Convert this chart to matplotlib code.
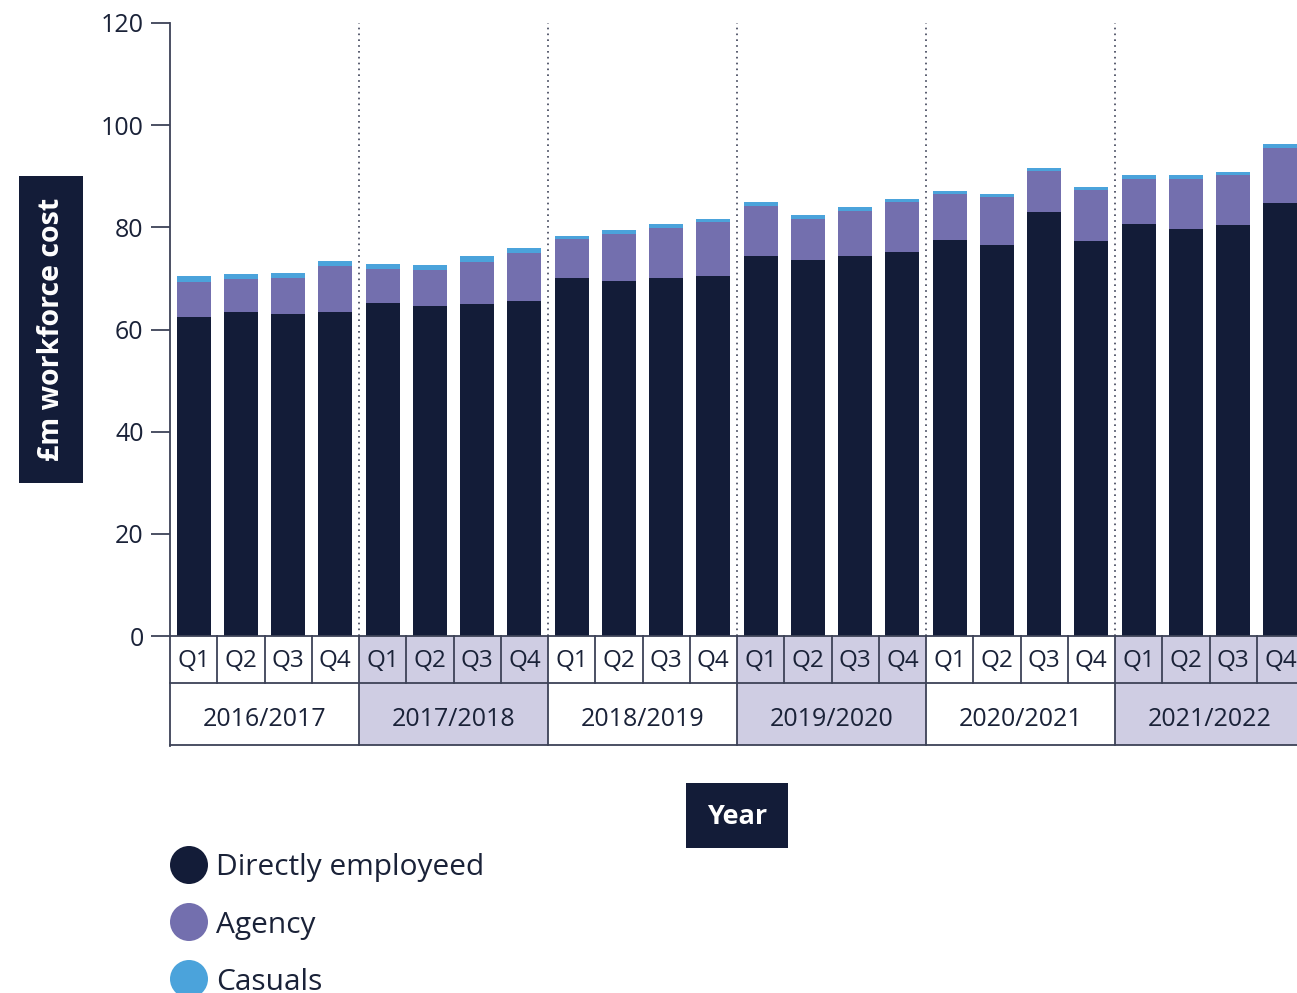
import matplotlib.pyplot as plt
from matplotlib.patches import Rectangle, Circle
from matplotlib.transforms import blended_transform_factory

plt.rcParams['font.family'] = ['Open Sans', 'DejaVu Sans']

# Workforce cost by quarter (£m)
years = ['2016/2017', '2017/2018', '2018/2019', '2019/2020', '2020/2021', '2021/2022']
quarters = ['Q1', 'Q2', 'Q3', 'Q4']
direct = [62.4, 63.4, 63.0, 63.4, 65.2, 64.6, 65.0, 65.6,
          70.1, 69.5, 70.1, 70.5, 74.4, 73.6, 74.4, 75.2,
          77.5, 76.5, 83.0, 77.3, 80.7, 79.7, 80.5, 84.8]
agency = [6.9, 6.5, 7.1, 9.0, 6.6, 7.1, 8.2, 9.4,
          7.6, 9.2, 9.8, 10.5, 9.8, 8.0, 8.8, 9.8,
          9.0, 9.4, 8.0, 10.0, 8.8, 9.8, 9.7, 10.7]
casual = [1.2, 1.0, 1.0, 1.0, 1.0, 0.9, 1.2, 1.0,
          0.6, 0.8, 0.8, 0.6, 0.8, 0.8, 0.8, 0.6,
          0.6, 0.6, 0.6, 0.6, 0.7, 0.7, 0.6, 0.8]
series_names = ['Directly employeed', 'Agency', 'Casuals']

NAVY = '#131c38'
PURPLE = '#736fae'
BLUE = '#4ba3db'
SHADE = '#cfcde3'
TEXT = '#1a2238'
LINE = '#3d4257'

W, H = 1297, 993
fig = plt.figure(figsize=(W / 100, H / 100), dpi=100)
ax = fig.add_axes([170 / W, (H - 636) / H, 1134 / W, 613 / H])

x = list(range(len(direct)))
ax.bar(x, direct, width=0.72, color=NAVY, zorder=2)
ax.bar(x, agency, width=0.72, bottom=direct, color=PURPLE, zorder=2)
tops = [d + a for d, a in zip(direct, agency)]
ax.bar(x, casual, width=0.72, bottom=tops, color=BLUE, zorder=2)

ax.set_xlim(-0.5, len(direct) - 0.5)
ax.set_ylim(0, 120)
ax.set_yticks(range(0, 121, 20))
ax.set_xticks([])
ax.tick_params(axis='y', length=14, width=1.3, color=LINE, pad=5,
               labelsize=18, labelcolor=TEXT)
for s in ['top', 'right', 'bottom']:
    ax.spines[s].set_visible(False)
ax.spines['left'].set_color(LINE)
ax.spines['left'].set_linewidth(1.3)
ax.spines['left'].set_bounds(-21.5, 120)

# dotted separators between financial years
for g in range(1, len(years)):
    ax.axvline(g * 4 - 0.5, ymin=0, ymax=1, color=LINE, linestyle=(0, (1, 2.5)),
               linewidth=1.2, zorder=1)

# two-row category table under the axis
trans = blended_transform_factory(ax.transData, ax.transAxes)
q_top, q_bot, y_bot = 0.0, -47 / 613, -109 / 613
for g, yr in enumerate(years):
    x0 = g * 4 - 0.5
    fc = SHADE if g % 2 == 1 else 'white'
    ax.add_patch(Rectangle((x0, y_bot), 4, q_top - y_bot, transform=trans,
                           facecolor=fc, edgecolor='none', clip_on=False, zorder=0))
    ax.text(x0 + 2, (q_bot + y_bot) / 2 - 0.009, yr, transform=trans, ha='center',
            va='center', fontsize=18, color=TEXT, clip_on=False)
    for qi, q in enumerate(quarters):
        ax.text(x0 + qi + 0.5, (q_top + q_bot) / 2 - 0.003, q, transform=trans,
                ha='center', va='center', fontsize=17.5, color=TEXT, clip_on=False)
for i in range(1, len(direct) + 1):
    lx = i - 0.5
    y_low = y_bot if i % 4 == 0 else q_bot
    ax.plot([lx, lx], [q_top, y_low], transform=trans, color=LINE, lw=1.3,
            clip_on=False, zorder=3)
for yy in (q_top, q_bot, y_bot):
    ax.plot([-0.5, len(direct) - 0.5], [yy, yy], transform=trans, color=LINE, lw=1.3,
            clip_on=False, zorder=3)

# overlay in pixel units for labels and legend
ov = fig.add_axes([0, 0, 1, 1])
ov.set_xlim(0, W)
ov.set_ylim(H, 0)
ov.axis('off')

ov.add_patch(Rectangle((19, 176), 64, 307, facecolor=NAVY, edgecolor='none'))
ov.text(52, 329, '£m workforce cost', rotation=90, ha='center', va='center',
        color='white', fontsize=20.5, fontweight='bold')

ov.add_patch(Rectangle((686, 783), 102, 65, facecolor=NAVY, edgecolor='none'))
ov.text(737, 817, 'Year', ha='center', va='center', color='white',
        fontsize=19.5, fontweight='bold')

for i, (name, c) in enumerate(zip(series_names, [NAVY, PURPLE, BLUE])):
    cy = 865 + i * 57
    ov.add_patch(Circle((189, cy), 19, facecolor=c, edgecolor='none'))
    ov.text(216, cy + 3, name, ha='left', va='center', fontsize=21.5, color=TEXT)

fig.savefig('out.png', dpi=100)
